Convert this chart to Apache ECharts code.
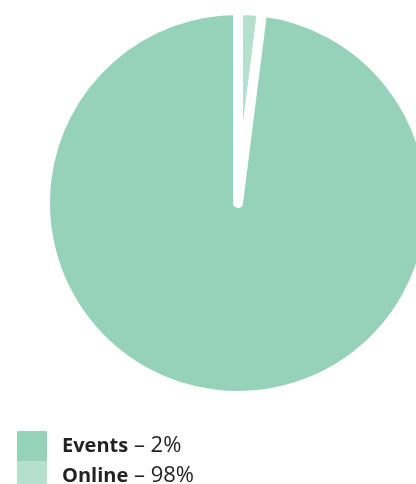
<!DOCTYPE html>
<html><head><meta charset="utf-8">
<script src="https://cdn.jsdelivr.net/npm/echarts@6/dist/echarts.min.js"></script>
<style>html,body{margin:0;padding:0;background:#fff}#c{width:416px;height:484px}</style>
</head><body><div id="c"></div>
<script>
const categories = ['Events', 'Online'];
const shares = [2, 98];
const sliceColors = ['#b4e0cd', '#95d2b9'];
const legendColors = ['#95d2b9', '#b4e0cd'];
const legendTops = [431, 461];

const chart = echarts.init(document.getElementById('c'), null, {renderer: 'canvas'});
chart.setOption({
  animation: false,
  legend: categories.map((n, i) => ({
    orient: 'vertical',
    left: 17, top: legendTops[i],
    padding: 0,
    itemWidth: 30, itemHeight: 30, itemGap: 0,
    icon: 'rect',
    selectedMode: false,
    itemStyle: {borderWidth: 0},
    data: [{name: n, itemStyle: {color: legendColors[i], borderWidth: 0}}],
    formatter: name => '{b|' + name + '} – ' + shares[categories.indexOf(name)] + '%',
    textStyle: {
      fontFamily: 'Open Sans', fontSize: 22, color: '#222', padding: [0, 0, 0, 10],
      rich: {b: {fontFamily: 'Open Sans', fontSize: 20, fontWeight: 'bold', color: '#222'}}
    }
  })),
  series: [{
    type: 'pie',
    center: [238, 203],
    radius: 193,
    startAngle: 90,
    clockwise: true,
    label: {show: false},
    labelLine: {show: false},
    emphasis: {disabled: true},
    itemStyle: {borderColor: '#fff', borderWidth: 10, borderJoin: 'round'},
    data: categories.map((n, i) => ({name: n, value: shares[i], itemStyle: {color: sliceColors[i]}}))
  }]
});
</script></body></html>
